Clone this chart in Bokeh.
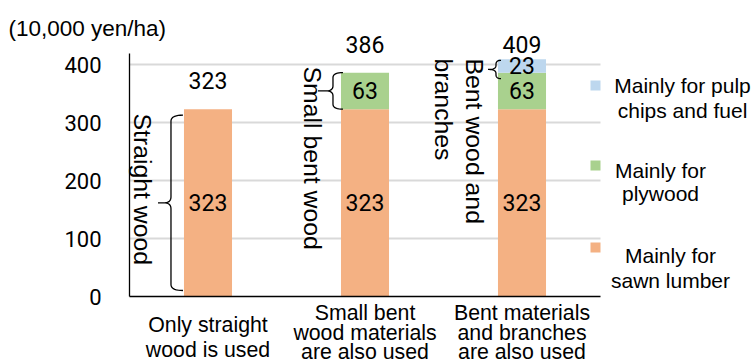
import numpy as np
from bokeh.plotting import figure
from bokeh.models import Range1d, Label, FixedTicker
from bokeh.embed import file_html
from bokeh.resources import INLINE

# ---------------- data ----------------
categories = [
    ["Only straight", "wood is used"],
    ["Small bent", "wood materials", "are also used"],
    ["Bent materials", "and branches", "are also used"],
]
sawn_lumber = [323, 323, 323]
plywood = [0, 63, 63]
pulp_chips_fuel = [0, 0, 23]
totals = [323, 386, 409]
series_names = ["Mainly for sawn lumber", "Mainly for plywood", "Mainly for pulp chips and fuel"]
legend_lines = [["Mainly for pulp", "chips and fuel"], ["Mainly for", "plywood"], ["Mainly for", "sawn lumber"]]
y_ticks = [0, 100, 200, 300, 400]
unit_label = "(10,000 yen/ha)"
group_labels = [["Straight wood"], ["Small bent wood"], ["Bent wood and", "branches"]]

# ---------------- style / layout ----------------
W, H = 755, 363
PLOT_L, PLOT_R, PLOT_T, PLOT_B = 129, 600, 53, 296   # plotting area in page pixels
Y_MAX = 419
N_CAT = 3
colors = {"sawn": "#F4B183", "ply": "#A9D18E", "pulp": "#BDD7EE"}
bar_w = 0.306
num_font = "Roboto"
txt_font = "Liberation Sans"
MID = 0.347  # em distance from baseline to the middle of the text box

px_per_x = (PLOT_R - PLOT_L) / N_CAT
px_per_y = (PLOT_B - PLOT_T) / Y_MAX


def px2x(px):
    return (px - PLOT_L) / px_per_x


def py2y(py):
    return (PLOT_B - py) / px_per_y


def x2px(x):
    return PLOT_L + x * px_per_x


def y2py(y):
    return PLOT_B - y * px_per_y


# the frame covers the whole page so that every text is drawn unclipped
p = figure(width=W, height=H,
           x_range=Range1d(px2x(0), px2x(W)), y_range=Range1d(py2y(H), py2y(0)),
           output_backend="svg", toolbar_location=None,
           min_border_left=0, min_border_right=0, min_border_top=0, min_border_bottom=0)
p.outline_line_color = None
p.background_fill_color = "white"
p.border_fill_color = "white"

# axes, pinned at the plotting area's edges
p.yaxis.fixed_location = 0
p.yaxis.bounds = (0, Y_MAX)
p.yaxis.ticker = FixedTicker(ticks=y_ticks)
p.yaxis.major_tick_in = 0
p.yaxis.major_tick_out = 0
p.yaxis.minor_tick_line_color = None
p.yaxis.axis_line_color = "black"
p.yaxis.axis_line_width = 1.3
p.yaxis.major_label_text_font = num_font
p.yaxis.major_label_text_font_size = "22px"
p.yaxis.major_label_text_color = "black"
p.yaxis.major_label_standoff = 28

p.xaxis.fixed_location = 0
p.xaxis.bounds = (0, N_CAT)
p.xaxis.ticker = FixedTicker(ticks=[])
p.xaxis.major_tick_in = 0
p.xaxis.major_tick_out = 0
p.xaxis.minor_tick_line_color = None
p.xaxis.axis_line_color = "black"
p.xaxis.axis_line_width = 1.6

p.xgrid.visible = False
p.ygrid.visible = False
grid_ticks = [t for t in y_ticks if t > 0]
p.segment(x0=[0] * len(grid_ticks), x1=[N_CAT] * len(grid_ticks), y0=grid_ticks, y1=grid_ticks,
          line_color="#d9d9d9", line_width=2, level="underlay")

# bars
xs = [i + 0.5 for i in range(N_CAT)]
b0 = [0] * N_CAT
t0 = sawn_lumber
t1 = [a + b for a, b in zip(t0, plywood)]
t2 = [a + b for a, b in zip(t1, pulp_chips_fuel)]
p.vbar(x=xs, bottom=b0, top=t0, width=bar_w, fill_color=colors["sawn"], line_color=None)
p.vbar(x=xs, bottom=t0, top=t1, width=bar_w, fill_color=colors["ply"], line_color=None)
p.vbar(x=xs, bottom=t1, top=t2, width=bar_w, fill_color=colors["pulp"], line_color=None)

# segment value labels
for i, x in enumerate(xs):
    for lo, val in ((0, sawn_lumber[i]), (t0[i], plywood[i]), (t1[i], pulp_chips_fuel[i])):
        if val > 0:
            p.add_layout(Label(x=x, y=lo + val / 2, text=str(val), text_align="center",
                               text_baseline="middle", text_font=num_font,
                               text_font_size="23px", text_color="black"))

# totals
total_offsets = [49, 49, 26]
for i, x in enumerate(xs):
    p.add_layout(Label(x=x, y=totals[i] + total_offsets[i], text=str(totals[i]),
                       text_align="center", text_baseline="middle", text_font=num_font,
                       text_font_size="23px", text_color="black"))


def text_line(txt, cx, baseline_py, size, align="center"):
    p.add_layout(Label(x=px2x(cx), y=py2y(baseline_py - MID * size), text=txt,
                       text_align=align, text_baseline="middle", text_font=txt_font,
                       text_font_size=f"{size}px", text_color="black"))


# category labels (below axis)
baselines = [[332, 357], [320, 339.5, 359], [320, 339.5, 359]]
for i, x in enumerate(xs):
    for line, bpy in zip(categories[i], baselines[i]):
        text_line(line, x2px(x), bpy, 21.3)

# unit label
text_line(unit_label, 8, 36, 22.5, align="left")

# vertical group labels
vpos = [[(142, 113)], [(312, 66)], [(473.5, 58), (442.5, 58)]]
for labels, poss in zip(group_labels, vpos):
    for txt, (vx, vy) in zip(labels, poss):
        p.add_layout(Label(x=px2x(vx), y=py2y(vy), text=txt, angle=-np.pi / 2,
                           text_align="left", text_baseline="middle", text_font=txt_font,
                           text_font_size="24.8px", text_color="black"))


# braces
def qbez(p0, c, p1, n=10):
    t = np.linspace(0, 1, n)
    bx = (1 - t) ** 2 * p0[0] + 2 * (1 - t) * t * c[0] + t ** 2 * p1[0]
    by = (1 - t) ** 2 * p0[1] + 2 * (1 - t) * t * c[1] + t ** 2 * p1[1]
    return list(bx), list(by)


def brace(xh, xl, xt, yt, yb, r=6, tr=7):
    ym = (yt + yb) / 2
    X, Y = [], []
    for seg in (qbez((xh, yt), (xl, yt), (xl, yt + r)),
                ([xl], [ym - r]),
                qbez((xl, ym - r), (xl, ym), (xl - tr, ym)),
                ([xt, xl - tr], [ym, ym]),
                qbez((xl - tr, ym), (xl, ym), (xl, ym + r)),
                ([xl], [yb - r]),
                qbez((xl, yb - r), (xl, yb), (xh, yb))):
        X += list(seg[0])
        Y += list(seg[1])
    return [px2x(v) for v in X], [py2y(v) for v in Y]


# (bar index, segment bottom, segment top, hook dx, line dx, tip dx, inset top, inset bottom, r)
brace_specs = [
    (0, 0, t0[0], -1, -13, -26, 6, 6, 6),
    (1, t0[1], t1[1], 2, -8, -23, 0, 0, 5),
    (2, t1[2], t2[2], 3, -2, -10, 1, -6, 4),
]
for idx, lo, hi, dh, dl, dt, it, ib, r in brace_specs:
    left = x2px(xs[idx] - bar_w / 2)
    bx, by = brace(left + dh, left + dl, left + dt, y2py(hi) + it, y2py(lo) - ib, r=r,
                   tr=min(7, abs(dl - dt)))
    p.line(bx, by, line_color="black", line_width=1.3)

# legend (drawn by hand, in the reference's layout)
leg_colors = [colors["pulp"], colors["ply"], colors["sawn"]]
leg_sq = [85, 165, 247]
leg_text_x = [682, 660, 670]
leg_base = [[92, 117], [177, 200], [262, 287]]
for c, sy, tx, bases, lines in zip(leg_colors, leg_sq, leg_text_x, leg_base, legend_lines):
    p.rect(x=[px2x(595)], y=[py2y(sy)], width=10, height=10, width_units="screen",
           height_units="screen", fill_color=c, line_color=None)
    for line, bpy in zip(lines, bases):
        text_line(line, tx, bpy, 21)

open("out.html", "w").write(file_html(p, INLINE))
